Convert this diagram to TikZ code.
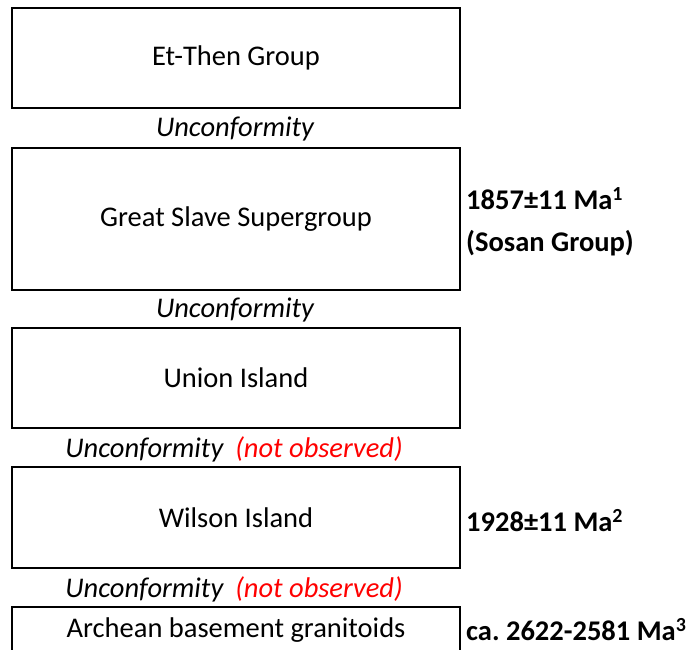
\documentclass[tikz,border=0pt]{standalone}
\usepackage{fontspec}
\setmainfont{Carlito}
\usetikzlibrary{positioning}
\definecolor{obsred}{RGB}{255,0,0}
\tikzset{
  layerbox/.style={draw,line width=1.6pt,minimum width=448pt,inner sep=0pt,
    font=\fontsize{28.5}{33}\selectfont},
  uncf/.style={inner sep=0pt,font=\fontsize{28.5}{33}\selectfont\itshape},
  agelabel/.style={anchor=west,align=left,inner sep=0pt,
    font=\fontsize{28.5}{42}\selectfont\bfseries}
}
\begin{document}
\begin{tikzpicture}[x=1pt,y=-1pt]
  \useasboundingbox (0,0) rectangle (693,649);

  \node[layerbox,minimum height=100pt] (etthen) at (236,58) {Et-Then Group};
  \node[uncf] (u1) at (235,129) {Unconformity};

  \node[layerbox,minimum height=142pt] (gss) at (236,219) {Great Slave Supergroup};
  \node[agelabel] (age1) at (466,222) {1857±11 Ma\textsuperscript{1}\\(Sosan Group)};
  \node[uncf] (u2) at (235,310) {Unconformity};

  \node[layerbox,minimum height=100pt] (union) at (236,378) {Union Island};
  \node[uncf] (u3) at (234,449) {Unconformity\hspace{12pt}\textcolor{obsred}{(not observed)}};

  \node[layerbox,minimum height=101pt] (wilson) at (236,517.5) {Wilson Island};
  \node[agelabel] (age2) at (466,521) {1928±11 Ma\textsuperscript{2}};
  \node[uncf] (u4) at (234,589) {Unconformity\hspace{12pt}\textcolor{obsred}{(not observed)}};

  \node[layerbox,minimum height=46pt] (archean) at (236,630) {Archean basement granitoids};
  \node[agelabel] (age3) at (466,630) {ca.\ 2622-2581 Ma\textsuperscript{3}};
\end{tikzpicture}
\end{document}
